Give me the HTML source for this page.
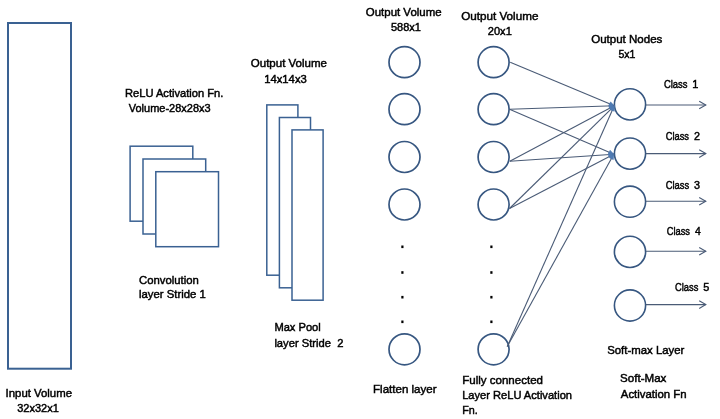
<!DOCTYPE html>
<html><head><meta charset="utf-8"><style>
html,body{margin:0;padding:0;background:#fff;}
svg{display:block;}
text{font-family:"Liberation Sans",sans-serif;font-size:11px;fill:#000;stroke:#000;stroke-width:0.45px;}
.tg{filter:grayscale(1);}
</style></head><body>
<svg width="720" height="419" viewBox="0 0 720 419">
<rect width="720" height="419" fill="#fff"/>
<rect x="8" y="23" width="63" height="345.7" fill="none" stroke="#3a6192" stroke-width="2"/>
<rect x="130.1" y="146.2" width="62.7" height="75" fill="#fff" stroke="#3a6192" stroke-width="1.5"/>
<rect x="143" y="159" width="62.7" height="75" fill="#fff" stroke="#3a6192" stroke-width="1.5"/>
<rect x="155.8" y="171.7" width="62.7" height="75" fill="#fff" stroke="#3a6192" stroke-width="1.5"/>
<rect x="266.8" y="104.9" width="31.1" height="170.3" fill="#fff" stroke="#3a6192" stroke-width="1.5"/>
<rect x="279.4" y="117.5" width="31.1" height="170.3" fill="#fff" stroke="#3a6192" stroke-width="1.5"/>
<rect x="292" y="129.9" width="31.1" height="170.3" fill="#fff" stroke="#3a6192" stroke-width="1.5"/>
<circle cx="404.5" cy="62.2" r="15.5" fill="none" stroke="#375781" stroke-width="1.7"/>
<circle cx="404.5" cy="109.2" r="15.5" fill="none" stroke="#375781" stroke-width="1.7"/>
<circle cx="404.5" cy="157" r="15.5" fill="none" stroke="#375781" stroke-width="1.7"/>
<circle cx="404.5" cy="204.5" r="15.5" fill="none" stroke="#375781" stroke-width="1.7"/>
<circle cx="404.5" cy="349.3" r="15.5" fill="none" stroke="#375781" stroke-width="1.7"/>
<circle cx="493.6" cy="62.2" r="15.5" fill="none" stroke="#375781" stroke-width="1.7"/>
<circle cx="493.6" cy="109.2" r="15.5" fill="none" stroke="#375781" stroke-width="1.7"/>
<circle cx="493.6" cy="157" r="15.5" fill="none" stroke="#375781" stroke-width="1.7"/>
<circle cx="493.6" cy="204.5" r="15.5" fill="none" stroke="#375781" stroke-width="1.7"/>
<circle cx="493.6" cy="349.3" r="15.5" fill="none" stroke="#375781" stroke-width="1.7"/>
<circle cx="630" cy="104.4" r="15.6" fill="none" stroke="#375781" stroke-width="1.6"/>
<circle cx="630" cy="153.6" r="15.6" fill="none" stroke="#375781" stroke-width="1.6"/>
<circle cx="630" cy="201.7" r="15.6" fill="none" stroke="#375781" stroke-width="1.6"/>
<circle cx="630" cy="251.9" r="15.6" fill="none" stroke="#375781" stroke-width="1.6"/>
<circle cx="630" cy="305.5" r="15.6" fill="none" stroke="#375781" stroke-width="1.6"/>
<rect x="401.3" y="245.5" width="2.2" height="2.6" fill="#000"/>
<rect x="401.3" y="271.2" width="2.2" height="2.6" fill="#000"/>
<rect x="401.3" y="295.90000000000003" width="2.2" height="2.6" fill="#000"/>
<rect x="401.3" y="320.5" width="2.2" height="2.6" fill="#000"/>
<rect x="490.3" y="245.5" width="2.2" height="2.6" fill="#000"/>
<rect x="490.3" y="271.2" width="2.2" height="2.6" fill="#000"/>
<rect x="490.3" y="295.90000000000003" width="2.2" height="2.6" fill="#000"/>
<rect x="490.3" y="320.5" width="2.2" height="2.6" fill="#000"/>
<line x1="510.2" y1="62.3" x2="614.3" y2="105.8" stroke="#4a5b76" stroke-width="1.1"/><polygon points="608.84,105.90 614.3,105.8 610.53,101.84" fill="#4f7bb3" stroke="#4f7bb3" stroke-width="0.6"/>
<line x1="509.5" y1="109.3" x2="614.3" y2="105.8" stroke="#4a5b76" stroke-width="1.1"/><polygon points="609.38,108.17 614.3,105.8 609.23,103.77" fill="#4f7bb3" stroke="#4f7bb3" stroke-width="0.6"/>
<line x1="509.5" y1="109.3" x2="613.8" y2="154.2" stroke="#4a5b76" stroke-width="1.1"/><polygon points="608.34,154.24 613.8,154.2 610.08,150.20" fill="#4f7bb3" stroke="#4f7bb3" stroke-width="0.6"/>
<line x1="509.8" y1="161.3" x2="614.3" y2="105.8" stroke="#4a5b76" stroke-width="1.1"/><polygon points="610.92,110.09 614.3,105.8 608.85,106.20" fill="#4f7bb3" stroke="#4f7bb3" stroke-width="0.6"/>
<line x1="509.8" y1="161.3" x2="613.8" y2="154.2" stroke="#4a5b76" stroke-width="1.1"/><polygon points="608.96,156.74 613.8,154.2 608.66,152.35" fill="#4f7bb3" stroke="#4f7bb3" stroke-width="0.6"/>
<line x1="509.5" y1="208.5" x2="614.3" y2="105.8" stroke="#4a5b76" stroke-width="1.1"/><polygon points="612.27,110.87 614.3,105.8 609.19,107.73" fill="#4f7bb3" stroke="#4f7bb3" stroke-width="0.6"/>
<line x1="509.5" y1="208.5" x2="613.8" y2="154.2" stroke="#4a5b76" stroke-width="1.1"/><polygon points="610.38,158.46 613.8,154.2 608.35,154.56" fill="#4f7bb3" stroke="#4f7bb3" stroke-width="0.6"/>
<line x1="507.2" y1="346.6" x2="614.3" y2="105.8" stroke="#4a5b76" stroke-width="1.1"/><polygon points="614.28,111.26 614.3,105.8 610.26,109.47" fill="#4f7bb3" stroke="#4f7bb3" stroke-width="0.6"/>
<line x1="507.2" y1="346.6" x2="613.8" y2="154.2" stroke="#4a5b76" stroke-width="1.1"/><polygon points="613.30,159.64 613.8,154.2 609.45,157.51" fill="#4f7bb3" stroke="#4f7bb3" stroke-width="0.6"/>
<line x1="645.8" y1="105.0" x2="705.8" y2="105.0" stroke="#4a5b76" stroke-width="1.1"/><polyline points="699.20,108.80 705.8,105.0 699.20,101.20" fill="none" stroke="#4a5b76" stroke-width="1.1"/>
<line x1="645.8" y1="153.6" x2="705.8" y2="153.6" stroke="#4a5b76" stroke-width="1.1"/><polyline points="699.20,157.40 705.8,153.6 699.20,149.80" fill="none" stroke="#4a5b76" stroke-width="1.1"/>
<line x1="645.8" y1="201.3" x2="705.8" y2="201.3" stroke="#4a5b76" stroke-width="1.1"/><polyline points="699.20,205.10 705.8,201.3 699.20,197.50" fill="none" stroke="#4a5b76" stroke-width="1.1"/>
<line x1="645.8" y1="251.3" x2="705.8" y2="251.3" stroke="#4a5b76" stroke-width="1.1"/><polyline points="699.20,255.10 705.8,251.3 699.20,247.50" fill="none" stroke="#4a5b76" stroke-width="1.1"/>
<line x1="645.8" y1="304.6" x2="705.8" y2="304.6" stroke="#4a5b76" stroke-width="1.1"/><polyline points="699.20,308.40 705.8,304.6 699.20,300.80" fill="none" stroke="#4a5b76" stroke-width="1.1"/>
<g class="tg">
<text x="5.60" y="396.7" textLength="66.40" lengthAdjust="spacingAndGlyphs">Input Volume</text>
<text x="17.20" y="411.7" textLength="41.60" lengthAdjust="spacingAndGlyphs">32x32x1</text>
<text x="125.00" y="96.7" textLength="98.40" lengthAdjust="spacingAndGlyphs">ReLU Activation Fn.</text>
<text x="128.80" y="111.9" textLength="81.80" lengthAdjust="spacingAndGlyphs">Volume-28x28x3</text>
<text x="139.00" y="284" textLength="59.80" lengthAdjust="spacingAndGlyphs">Convolution</text>
<text x="139.00" y="298.2" textLength="66.80" lengthAdjust="spacingAndGlyphs">layer Stride 1</text>
<text x="250.80" y="67.2" textLength="76.20" lengthAdjust="spacingAndGlyphs">Output Volume</text>
<text x="264.20" y="82.7" textLength="42.60" lengthAdjust="spacingAndGlyphs">14x14x3</text>
<text x="274.40" y="331" textLength="46.40" lengthAdjust="spacingAndGlyphs">Max Pool</text>
<text x="274.40" y="346.6" textLength="69.00" lengthAdjust="spacingAndGlyphs">layer&#160;Stride&#160;&#160;2</text>
<text x="365.80" y="16.1" textLength="75.80" lengthAdjust="spacingAndGlyphs">Output Volume</text>
<text x="391.00" y="31.1" textLength="30.00" lengthAdjust="spacingAndGlyphs">588x1</text>
<text x="373.00" y="392.6" textLength="63.60" lengthAdjust="spacingAndGlyphs">Flatten layer</text>
<text x="461.20" y="19.8" textLength="77.20" lengthAdjust="spacingAndGlyphs">Output Volume</text>
<text x="487.80" y="34.8" textLength="24.00" lengthAdjust="spacingAndGlyphs">20x1</text>
<text x="462.20" y="383.7" textLength="80.80" lengthAdjust="spacingAndGlyphs">Fully connected</text>
<text x="462.20" y="399" textLength="109.80" lengthAdjust="spacingAndGlyphs">Layer ReLU Activation</text>
<text x="462.20" y="414" textLength="15.60" lengthAdjust="spacingAndGlyphs">Fn.</text>
<text x="591.20" y="43.2" textLength="71.20" lengthAdjust="spacingAndGlyphs">Output Nodes</text>
<text x="618.40" y="57.9" textLength="17.00" lengthAdjust="spacingAndGlyphs">5x1</text>
<text x="664.00" y="87.5" textLength="23.50" lengthAdjust="spacingAndGlyphs">Class</text>
<text x="692.30" y="87.5" textLength="6.10" lengthAdjust="spacingAndGlyphs">1</text>
<text x="665.70" y="139.9" textLength="23.30" lengthAdjust="spacingAndGlyphs">Class</text>
<text x="694.10" y="139.9" textLength="6.00" lengthAdjust="spacingAndGlyphs">2</text>
<text x="665.70" y="188.6" textLength="23.50" lengthAdjust="spacingAndGlyphs">Class</text>
<text x="694.10" y="188.6" textLength="6.00" lengthAdjust="spacingAndGlyphs">3</text>
<text x="666.70" y="234.9" textLength="23.30" lengthAdjust="spacingAndGlyphs">Class</text>
<text x="695.00" y="234.9" textLength="5.80" lengthAdjust="spacingAndGlyphs">4</text>
<text x="675.00" y="290.8" textLength="23.30" lengthAdjust="spacingAndGlyphs">Class</text>
<text x="703.20" y="290.8" textLength="6.05" lengthAdjust="spacingAndGlyphs">5</text>
<text x="607.20" y="353.5" textLength="77.20" lengthAdjust="spacingAndGlyphs">Soft-max Layer</text>
<text x="620.00" y="382.3" textLength="46.40" lengthAdjust="spacingAndGlyphs">Soft-Max</text>
<text x="620.80" y="397.9" textLength="65.80" lengthAdjust="spacingAndGlyphs">Activation Fn</text>
</g>
</svg>
</body></html>
